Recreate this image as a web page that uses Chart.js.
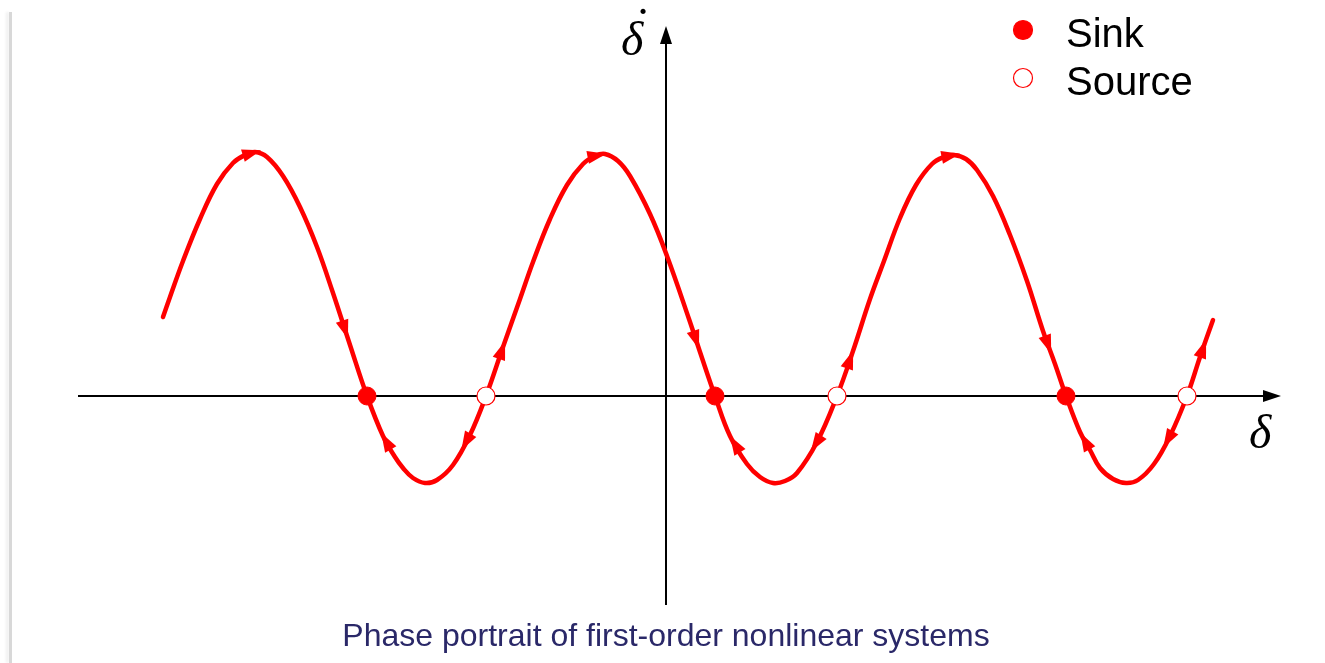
<!DOCTYPE html>
<html>
<head>
<meta charset="utf-8">
<script src="https://cdn.jsdelivr.net/npm/chart.js@4.4.0/dist/chart.umd.min.js"></script>
<style>
html, body { margin: 0; padding: 0; background: #fff; overflow: hidden; }
#wrap { position: relative; width: 1325px; height: 663px; }
#wrap canvas { display: block; }
#edge { position: absolute; left: 9px; top: 12px; width: 3px; height: 651px; background: #d8d8d8; box-shadow: -3px 0 3px #efefef; }
</style>
</head>
<body>
<div id="wrap"><div id="edge"></div><canvas id="phase"></canvas></div>
<script>
// trajectory samples: delta (horizontal) and delta-dot (vertical)
const deltaVals = [
	-5.03, -4.96, -4.83, -4.66, -4.49, -4.33, -4.21, -4.11,
	-3.99, -3.83, -3.66, -3.49, -3.33, -3.16, -2.99,
	-2.83, -2.71, -2.63, -2.53, -2.41, -2.29, -2.13, -1.96, -1.80,
	-1.63, -1.46, -1.33, -1.16, -0.99, -0.83, -0.71, -0.61, -0.48,
	-0.36, -0.16, 0.01, 0.23, 0.34, 0.49,
	0.64, 0.81, 0.94, 1.07, 1.19, 1.31, 1.51, 1.71,
	1.87, 2.04, 2.18, 2.34, 2.50, 2.66, 2.78, 2.88,
	3.00, 3.11, 3.27, 3.44, 3.61, 3.77, 3.89, 4.00,
	4.14, 4.24, 4.34, 4.47, 4.60, 4.72, 4.88, 5.04, 5.21, 5.34, 5.47
];
const deltaDotVals = [
	0.79, 0.99, 1.35, 1.77, 2.12, 2.33, 2.41, 2.44,
	2.39, 2.20, 1.89, 1.49, 1.03, 0.51, 0.00,
	-0.40, -0.61, -0.72, -0.82, -0.87, -0.84, -0.69, -0.39, 0.00,
	0.49, 0.97, 1.34, 1.77, 2.11, 2.32, 2.40, 2.42, 2.35,
	2.20, 1.82, 1.40, 0.77, 0.44, 0.00,
	-0.40, -0.68, -0.81, -0.87, -0.85, -0.77, -0.46, 0.00,
	0.45, 0.97, 1.35, 1.78, 2.11, 2.32, 2.39, 2.41,
	2.37, 2.26, 2.00, 1.61, 1.15, 0.65, 0.32, 0.00,
	-0.36, -0.54, -0.72, -0.83, -0.87, -0.84, -0.68, -0.40, 0.00, 0.39, 0.76
];

// equilibrium points on the delta axis
const sinkDelta = [-2.99, 0.49, 4.00];
const sourceDelta = [-1.80, 1.71, 5.21];

// where the flow direction arrows sit along the trajectory
const arrowDelta = [-4.14, -3.21, -2.80, -2.00, -1.64, -0.69, 0.30, 0.69, 1.50, 1.84, 2.85, 3.82, 4.19, 5.02, 5.37];

const legendLabels = ['Sink', 'Source'];
const captionText = 'Phase portrait of first-order nonlinear systems';

// axis extents (tail, arrow tip)
const xAxisSpan = [-5.88, 6.15];
const yAxisSpan = [-2.09, 3.70];

const RED = '#ff0000';

function arrowhead(ctx, tx, ty, ang, len, half) {
	ctx.save();
	ctx.translate(tx, ty);
	ctx.rotate(ang);
	ctx.beginPath();
	ctx.moveTo(0, 0);
	ctx.lineTo(-len, -half);
	ctx.lineTo(-len, half);
	ctx.closePath();
	ctx.fill();
	ctx.restore();
}

const phaseDecor = {
	id: 'phaseDecor',
	beforeDatasetsDraw(chart) {
		const { ctx, scales: { x, y } } = chart;
		const x0 = x.getPixelForValue(0), y0 = y.getPixelForValue(0);
		const xl = x.getPixelForValue(xAxisSpan[0]), xr = x.getPixelForValue(xAxisSpan[1]);
		const yb = y.getPixelForValue(yAxisSpan[0]), yt = y.getPixelForValue(yAxisSpan[1]);

		ctx.save();
		ctx.strokeStyle = '#000';
		ctx.fillStyle = '#000';
		ctx.lineWidth = 2;
		ctx.beginPath();
		ctx.moveTo(xl, y0);
		ctx.lineTo(xr - 12, y0);
		ctx.moveTo(x0, yb);
		ctx.lineTo(x0, yt + 12);
		ctx.stroke();
		arrowhead(ctx, xr, y0, 0, 18, 6);
		arrowhead(ctx, x0, yt, -Math.PI / 2, 18, 6);

		// axis names
		ctx.font = 'italic 48px "Liberation Serif", "Times New Roman", serif';
		ctx.textBaseline = 'alphabetic';
		ctx.textAlign = 'left';
		ctx.fillText('\u03b4', xr - 32, y0 + 52);
		ctx.fillText('\u03b4', x0 - 45, yt + 29);
		ctx.textAlign = 'center';
		ctx.fillText('\u02d9', x0 - 26, yt + 15);
		ctx.restore();
	},
	afterDatasetsDraw(chart) {
		const { ctx, scales: { x, y } } = chart;
		ctx.save();
		ctx.fillStyle = RED;
		for (const d of arrowDelta) {
			let i = 0;
			while (i < deltaVals.length - 2 && deltaVals[i + 1] < d) i++;
			const t = (d - deltaVals[i]) / (deltaVals[i + 1] - deltaVals[i]);
			const v = deltaDotVals[i] + t * (deltaDotVals[i + 1] - deltaDotVals[i]);
			const px1 = x.getPixelForValue(deltaVals[i]), py1 = y.getPixelForValue(deltaDotVals[i]);
			const px2 = x.getPixelForValue(deltaVals[i + 1]), py2 = y.getPixelForValue(deltaDotVals[i + 1]);
			let ang = Math.atan2(py2 - py1, px2 - px1);
			if (v < 0) ang += Math.PI; // flow runs left where delta-dot is negative
			const cx = x.getPixelForValue(d), cy = y.getPixelForValue(v);
			const len = 19;
			arrowhead(ctx, cx + Math.cos(ang) * len / 2, cy + Math.sin(ang) * len / 2, ang, len, 6.5);
		}
		ctx.restore();
	},
	afterDraw(chart) {
		const { ctx } = chart;
		ctx.save();
		// legend
		ctx.font = '40px "Liberation Sans", Arial, sans-serif';
		ctx.textBaseline = 'alphabetic';
		ctx.textAlign = 'left';
		legendLabels.forEach((lab, k) => {
			const cy = 30 + k * 48;
			ctx.beginPath();
			ctx.arc(1023, cy, 9.5, 0, Math.PI * 2);
			ctx.fillStyle = k === 0 ? RED : '#fff';
			ctx.fill();
			ctx.lineWidth = 1.2;
			ctx.strokeStyle = RED;
			ctx.stroke();
			ctx.fillStyle = '#000';
			ctx.fillText(lab, 1066, cy + 17);
		});
		// caption
		ctx.font = '32px "Liberation Sans", Arial, sans-serif';
		ctx.fillStyle = '#2a2868';
		ctx.textAlign = 'center';
		ctx.fillText(captionText, 666, 646);
		ctx.restore();
	}
};

new Chart(document.getElementById('phase'), {
	type: 'scatter',
	data: {
		datasets: [{
			label: 'Sink',
			data: sinkDelta.map(d => ({ x: d, y: 0 })),
			pointRadius: 9,
			pointBackgroundColor: RED,
			pointBorderColor: RED,
			pointBorderWidth: 1
		}, {
			label: 'Source',
			data: sourceDelta.map(d => ({ x: d, y: 0 })),
			pointRadius: 9,
			pointBackgroundColor: '#fff',
			pointBorderColor: RED,
			pointBorderWidth: 1.2
		}, {
			label: 'Trajectory',
			type: 'line',
			data: deltaVals.map((d, i) => ({ x: d, y: deltaDotVals[i] })),
			borderColor: RED,
			borderWidth: 4.5,
			borderCapStyle: 'round',
			borderJoinStyle: 'round',
			pointRadius: 0,
			tension: 0.4,
			fill: false
		}]
	},
	options: {
		responsive: true,
		maintainAspectRatio: false,
		animation: false,
		layout: { padding: 0, autoPadding: false },
		scales: {
			x: { type: 'linear', display: false, min: -6.66, max: 6.59 },
			y: { type: 'linear', display: false, min: -2.67, max: 3.96 }
		},
		plugins: {
			legend: { display: false },
			tooltip: { enabled: false }
		}
	},
	plugins: [phaseDecor]
});
</script>
</body>
</html>
